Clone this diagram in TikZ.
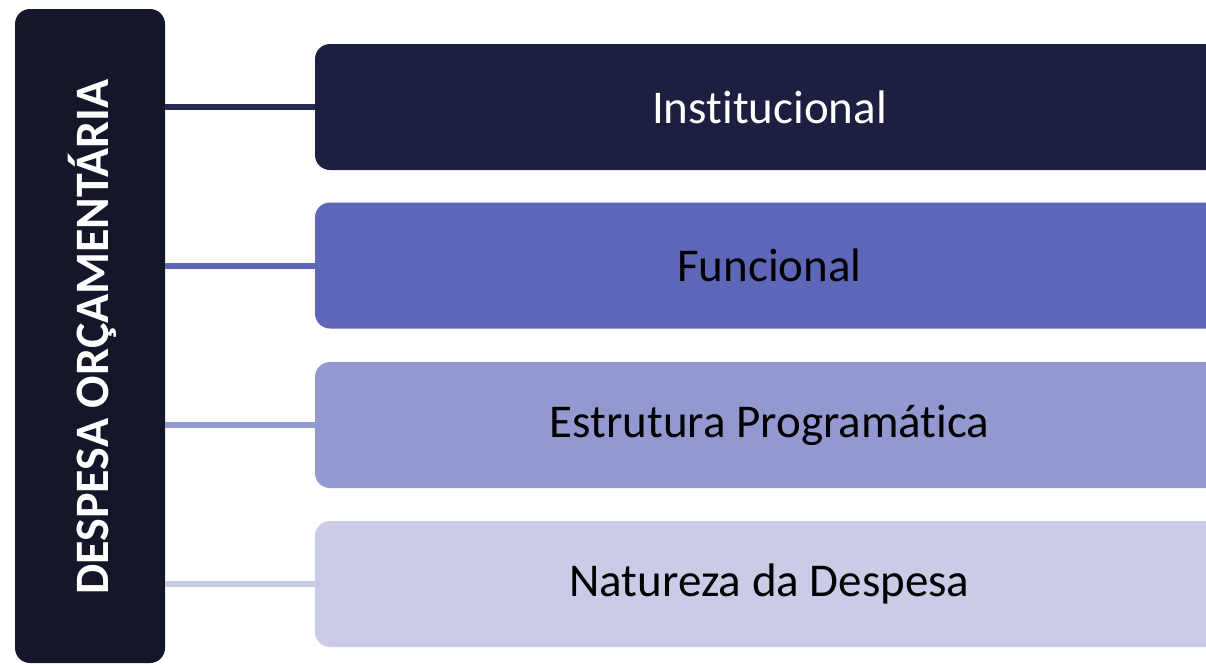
\documentclass[tikz,border=0pt]{standalone}
\usepackage{fontspec}
\setmainfont{Carlito}[RawFeature={-liga;-dlig;-clig}]
\begin{document}
\begin{tikzpicture}[x=1pt,y=-1pt,
  rootbox/.style={draw=none,fill=rootc,rounded corners=15pt,minimum width=150pt,minimum height=654pt,inner sep=0pt},
  bar/.style={draw=none,rounded corners=15pt,minimum width=909pt,minimum height=126pt,inner sep=0pt,font=\fontsize{47}{56}\selectfont},
  link/.style={line width=6pt}]
\definecolor{rootc}{HTML}{141729}
\definecolor{c1}{HTML}{1D1F40}
\definecolor{l1}{HTML}{262A50}
\definecolor{c2}{HTML}{5E66B8}
\definecolor{c3}{HTML}{9398D0}
\definecolor{c4}{HTML}{C9CBE7}
\useasboundingbox (0,0) rectangle (1206,664);
\clip (0,0) rectangle (1206,664);
\node[rootbox] (root) at (90,336) {};
\node[rotate=90,text=white,font=\fontsize{48}{56}\selectfont\bfseries] (title) at (92,337) {DESPESA ORÇAMENTÁRIA};
\node[bar,fill=c1,text=white] (b1) at (769.5,107) {Institucional};
\node[bar,fill=c2,text=black] (b2) at (769.5,265.5) {Funcional};
\node[bar,fill=c3,text=black] (b3) at (769.5,425) {Estrutura Programática};
\node[bar,fill=c4,text=black] (b4) at (769.5,584) {Natureza da Despesa};
\draw[link,l1] (root.east |- b1.west) -- (b1.west);
\draw[link,c2] (root.east |- b2.west) -- (b2.west);
\draw[link,c3] (root.east |- b3.west) -- (b3.west);
\draw[link,c4] (root.east |- b4.west) -- (b4.west);
\end{tikzpicture}
\end{document}
